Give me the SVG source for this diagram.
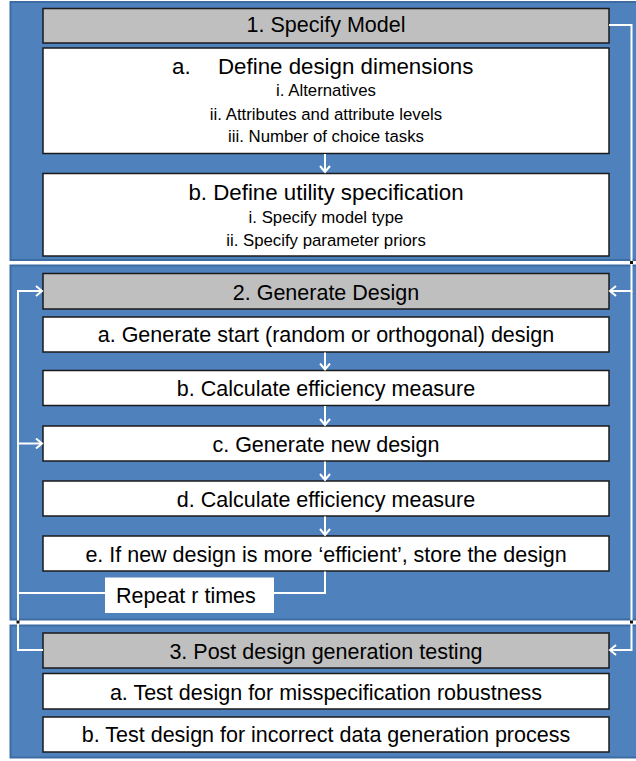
<svg xmlns="http://www.w3.org/2000/svg" width="636" height="761" viewBox="0 0 636 761">
<style>
.panel{fill:#4f81bd;stroke:#3d6ca3;stroke-width:2}
.hdr{fill:#bfbfbf;stroke:#1a1a1a;stroke-width:1.5}
.box{fill:#ffffff;stroke:#1a1a1a;stroke-width:1.5}
.t{font-family:"Liberation Sans",Arial,sans-serif;fill:#000;text-anchor:middle;font-size:21.5px}
.big{font-size:22.3px}
.sub{font-size:16.8px}
.conn{stroke:#ffffff;stroke-width:2;fill:none}
.arr{marker-end:url(#ah)}
.dot{fill:#111}
</style>
<defs>
<marker id="ah" markerWidth="9" markerHeight="12" refX="7" refY="6" orient="auto" markerUnits="userSpaceOnUse">
<path d="M1,1 L7,6 L1,11" fill="none" stroke="#ffffff" stroke-width="2"/>
</marker>
</defs>
<rect width="636" height="761" fill="#ffffff"/>

<g id="panel-1"><rect class="panel" x="10.5" y="2" width="630" height="258"/></g>
<g id="panel-2"><rect class="panel" x="10.5" y="265.5" width="630" height="354"/></g>
<g id="panel-3"><rect class="panel" x="10.5" y="625.5" width="630" height="132"/></g>

<g id="step1-header"><rect class="hdr" x="43" y="8.5" width="566" height="34.5"/><text class="t" x="326" y="32">1. Specify Model</text></g>
<g id="step1a"><rect class="box" x="43" y="48" width="566" height="105.5"/>
<text class="t big" y="74" style="text-anchor:start"><tspan x="172">a.</tspan><tspan x="218">Define design dimensions</tspan></text>
<text class="t sub" x="326" y="96">i. Alternatives</text>
<text class="t sub" x="326" y="119.5">ii. Attributes and attribute levels</text>
<text class="t sub" x="326" y="142">iii. Number of choice tasks</text></g>
<g id="step1b"><rect class="box" x="43" y="173.5" width="566" height="82.5"/>
<text class="t big" x="326" y="199.5">b. Define utility specification</text>
<text class="t sub" x="326" y="222.5">i. Specify model type</text>
<text class="t sub" x="326" y="245.5">ii. Specify parameter priors</text></g>

<g id="step2-header"><rect class="hdr" x="43" y="273.5" width="566" height="35.5"/><text class="t" x="326" y="299.5">2. Generate Design</text></g>
<g id="step2a"><rect class="box" x="43" y="317" width="566" height="35"/><text class="t" x="326" y="342">a. Generate start (random or orthogonal) design</text></g>
<g id="step2b"><rect class="box" x="43" y="370.5" width="566" height="35"/><text class="t" x="326" y="396">b. Calculate efficiency measure</text></g>
<g id="step2c"><rect class="box" x="43" y="426" width="566" height="35"/><text class="t" x="326" y="451.5">c. Generate new design</text></g>
<g id="step2d"><rect class="box" x="43" y="481" width="566" height="35"/><text class="t" x="326" y="506.5">d. Calculate efficiency measure</text></g>
<g id="step2e"><rect class="box" x="43" y="536" width="566" height="35"/><text class="t" x="326" y="561.5">e. If new design is more ‘efficient’, store the design</text></g>

<g id="step3-header"><rect class="hdr" x="43" y="633" width="566" height="35"/><text class="t" x="326" y="658.5">3. Post design generation testing</text></g>
<g id="step3a"><rect class="box" x="43" y="673.5" width="566" height="35.5"/><text class="t" x="326" y="699.5">a. Test design for misspecification robustness</text></g>
<g id="step3b"><rect class="box" x="43" y="717" width="566" height="35"/><text class="t" x="326" y="742">b. Test design for incorrect data generation process</text></g>

<g id="connectors">
<path class="conn arr" d="M325,154 V172"/>
<path class="conn arr" d="M609,25 H631.5 V291 H610"/>
<path class="conn arr" d="M631.5,291 V650 H610"/>
<path class="conn arr" d="M325,352.5 V369.5"/>
<path class="conn arr" d="M325,406 V425"/>
<path class="conn arr" d="M325,461.5 V480"/>
<path class="conn arr" d="M325,516.5 V535"/>
<path class="conn arr" d="M325,571.5 V593 H18 V291 H42"/>
<path class="conn arr" d="M18,443.5 H42"/>
<path class="conn" d="M18,593 V650 H43"/>
<rect class="dot" x="630" y="261" width="3" height="3"/>
<rect class="dot" x="630" y="620.5" width="3" height="3"/>
<rect class="dot" x="16.5" y="620.5" width="3" height="3"/>
</g>

<g id="repeat-label"><rect x="105" y="577.5" width="169" height="35.5" fill="#ffffff"/><text class="t" x="116" y="603" style="text-anchor:start">Repeat r times</text></g>
</svg>
